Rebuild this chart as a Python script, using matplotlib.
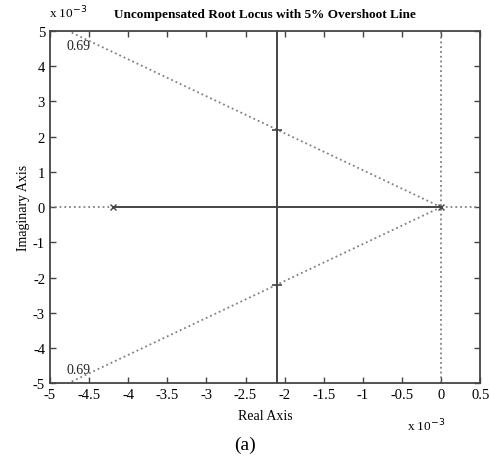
import numpy as np
import matplotlib
matplotlib.use("Agg")
import matplotlib.pyplot as plt

# Data (in units of 1e-3)
poles_re = [-4.2, 0.0]
breakaway_re = -2.1
zeta = 0.69
cross_im = [2.2, -2.2]
xlim = (-5.0, 0.5)
ylim = (-5.0, 5.0)
xticks = [-5, -4.5, -4, -3.5, -3, -2.5, -2, -1.5, -1, -0.5, 0, 0.5]
yticks = [-5, -4, -3, -2, -1, 0, 1, 2, 3, 4, 5]

plt.rcParams['font.family'] = ['Liberation Serif', 'DejaVu Serif']

fig = plt.figure(figsize=(4.9, 4.64), dpi=100)
ax = fig.add_axes([0.102, 0.172, 0.878, 0.759])
ax.set_xlim(*xlim)
ax.set_ylim(*ylim)

lc = '#444444'
dc = '#808080'
# zeta lines (dotted)
slope = np.sqrt(1 - zeta**2) / zeta
xe = -ylim[1] / slope
ax.plot([0, xe], [0, ylim[1]], ':', color=dc, lw=1.3)
ax.plot([0, xe], [0, ylim[0]], ':', color=dc, lw=1.3)
# s-plane axes (dotted)
ax.plot([0, 0], list(ylim), ':', color=dc, lw=1.3)
ax.plot([xlim[0], poles_re[0]], [0, 0], ':', color=dc, lw=1.3)
ax.plot([0, xlim[1]], [0, 0], ':', color=dc, lw=1.3)
# root locus (solid)
ax.plot([poles_re[0], poles_re[1]], [0, 0], '-', color=lc, lw=1.4)
ax.plot([breakaway_re, breakaway_re], list(ylim), '-', color=lc, lw=1.4)
# poles
ax.plot(poles_re, [0, 0], 'x', color=lc, ms=4, mew=1.0)
# crossing points
ax.plot([breakaway_re] * 2, cross_im, '_', color=lc, ms=7, mew=1.2)

# zeta labels
ax.text(-4.79, 4.6, '%.2f' % zeta, fontsize=10, ha='left', va='center', color='#222222')
ax.text(-4.79, -4.62, '%.2f' % zeta, fontsize=10, ha='left', va='center', color='#222222')

ax.set_xticks(xticks)
ax.set_xticklabels(['%g' % t for t in xticks])
ax.set_yticks(yticks)
ax.set_yticklabels(['%g' % t for t in yticks])
ax.tick_params(direction='in', top=True, right=True, labelsize=10.5, length=4, width=1, color='#444444')
for s in ax.spines.values():
    s.set_color('#444444')
    s.set_linewidth(1.3)

ax.set_title('Uncompensated Root Locus with 5% Overshoot Line', fontsize=9.5, fontweight='bold', pad=10)
ax.set_xlabel('Real Axis', fontsize=10, labelpad=6)
ax.set_ylabel('Imaginary Axis', fontsize=10, labelpad=2)

fig.text(0.1, 0.955, r'x 10$^{-3}$', fontsize=9.5, ha='left', va='bottom')
fig.text(0.83, 0.065, r'x 10$^{-3}$', fontsize=9.5, ha='left', va='bottom')
fig.text(0.5, 0.04, '(a)', fontsize=14, ha='center', va='center')

fig.savefig('out.png', dpi=100, facecolor='white')
